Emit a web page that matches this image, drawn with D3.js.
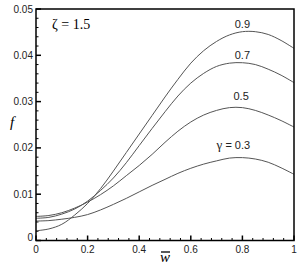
<!DOCTYPE html>
<html>
<head>
<meta charset="utf-8">
<script src="https://cdn.jsdelivr.net/npm/d3@7"></script>
<style>
  body { margin: 0; background: #fff; }
  svg { display: block; }
  .tick-label { font-family: "Liberation Sans", Arial, sans-serif; font-size: 10px; fill: #222; }
  .curve-label { font-family: "Liberation Sans", Arial, sans-serif; font-size: 11px; fill: #222; }
  .serif { font-family: "Liberation Serif", "Times New Roman", serif; }
</style>
</head>
<body>
<svg id="chart" width="305" height="268"></svg>
<script>
// x positions (w-bar) where the curves were read
const wValues = [0, 0.05, 0.1, 0.15, 0.2, 0.25, 0.3, 0.35, 0.4, 0.45, 0.5,
                 0.55, 0.6, 0.65, 0.7, 0.75, 0.8, 0.85, 0.9, 0.95, 1.0];

// f for each gamma
const fGamma09 = [0.0021, 0.0025, 0.0035, 0.0055, 0.0080, 0.0112, 0.0150, 0.0190, 0.0230, 0.0270, 0.0310,
                  0.0348, 0.0383, 0.0410, 0.0430, 0.0444, 0.0451, 0.0451, 0.0445, 0.0432, 0.0415];
const fGamma07 = [0.0048, 0.0050, 0.0057, 0.0068, 0.0085, 0.0108, 0.0135, 0.0168, 0.0205, 0.0242, 0.0278,
                  0.0312, 0.0340, 0.0361, 0.0376, 0.0383, 0.0384, 0.0380, 0.0370, 0.0357, 0.0341];
const fGamma05 = [0.0052, 0.0054, 0.0060, 0.0070, 0.0083, 0.0099, 0.0118, 0.0140, 0.0162, 0.0186, 0.0212,
                  0.0236, 0.0256, 0.0271, 0.0281, 0.0287, 0.0287, 0.0281, 0.0271, 0.0259, 0.0245];
const fGamma03 = [0.0042, 0.0043, 0.0046, 0.0050, 0.0056, 0.0066, 0.0078, 0.0091, 0.0105, 0.0119, 0.0132,
                  0.0145, 0.0156, 0.0165, 0.0172, 0.0178, 0.0179, 0.0176, 0.0169, 0.0157, 0.0143];

const xTicks = [0, 0.2, 0.4, 0.6, 0.8, 1];
const xTickLabels = ['0', '0.2', '0.4', '0.6', '0.8', '1'];
const yTicks = [0, 0.01, 0.02, 0.03, 0.04, 0.05];
const yTickLabels = ['0', '0.01', '0.02', '0.03', '0.04', '0.05'];

// curve labels: text and where it sits (data coords)
const labelTexts = ['0.9', '0.7', '0.5', '\u03b3 = 0.3'];
const labelW = [0.8, 0.8, 0.795, 0.765];
const labelF = [0.0460, 0.0393, 0.0303, 0.0198];

const svg = d3.select('#chart');
const plot = { left: 36, right: 294, top: 9, bottom: 240.5 };

const x = d3.scaleLinear().domain([0, 1]).range([plot.left, plot.right]);
const y = d3.scaleLinear().domain([0, 0.05]).range([plot.bottom, plot.top]);

// minor ticks
const xMinor = d3.range(0, 1.0001, 0.04).filter(v => !xTicks.some(t => Math.abs(t - v) < 1e-6));
const yMinor = d3.range(0, 0.05001, 0.002).filter(v => !yTicks.some(t => Math.abs(t - v) < 1e-7));

const g = svg.append('g');

g.selectAll('.xminor').data(xMinor).enter().append('line')
    .attr('x1', d => x(d)).attr('x2', d => x(d))
    .attr('y1', plot.bottom).attr('y2', plot.bottom - 2.5)
    .attr('stroke', '#000').attr('stroke-width', 1);
g.selectAll('.xmajor').data(xTicks).enter().append('line')
    .attr('x1', d => x(d)).attr('x2', d => x(d))
    .attr('y1', plot.bottom).attr('y2', plot.bottom - 5)
    .attr('stroke', '#000').attr('stroke-width', 1.5);
g.selectAll('.yminor').data(yMinor).enter().append('line')
    .attr('y1', d => y(d)).attr('y2', d => y(d))
    .attr('x1', plot.left).attr('x2', plot.left + 2.5)
    .attr('stroke', '#000').attr('stroke-width', 1);
g.selectAll('.ymajor').data(yTicks).enter().append('line')
    .attr('y1', d => y(d)).attr('y2', d => y(d))
    .attr('x1', plot.left).attr('x2', plot.left + 5)
    .attr('stroke', '#000').attr('stroke-width', 1.5);

// tick labels
g.selectAll('.xlab').data(xTicks).enter().append('text')
    .attr('class', 'tick-label')
    .attr('x', d => x(d)).attr('y', plot.bottom + 12)
    .attr('text-anchor', 'middle')
    .text((d, i) => xTickLabels[i]);
g.selectAll('.ylab').data(yTicks).enter().append('text')
    .attr('class', 'tick-label')
    .attr('x', plot.left - 3).attr('y', d => y(d) + (d === 0 ? 0 : 3.5))
    .attr('text-anchor', 'end')
    .text((d, i) => yTickLabels[i]);

// curves
const series = [fGamma09, fGamma07, fGamma05, fGamma03];
const line = d3.line()
    .x((d, i) => x(wValues[i]))
    .y(d => y(d))
    .curve(d3.curveCatmullRom.alpha(0.5));

g.selectAll('.curve').data(series).enter().append('path')
    .attr('d', d => line(d))
    .attr('fill', 'none')
    .attr('stroke', '#555')
    .attr('stroke-width', 1);

// frame
g.append('rect')
    .attr('x', plot.left).attr('y', plot.top)
    .attr('width', plot.right - plot.left).attr('height', plot.bottom - plot.top)
    .attr('fill', 'none').attr('stroke', '#000').attr('stroke-width', 1.5);

// curve labels
labelTexts.forEach((t, i) => {
    const txt = g.append('text')
        .attr('class', 'curve-label')
        .attr('x', x(labelW[i])).attr('y', y(labelF[i]))
        .attr('text-anchor', 'middle');
    if (t.startsWith('\u03b3')) {
        txt.append('tspan').attr('class', 'serif').style('font-size', '13px').text('\u03b3');
        txt.append('tspan').text(' = 0.3');
    } else {
        txt.text(t);
    }
});

// zeta annotation
svg.append('text')
    .attr('class', 'serif')
    .attr('x', 52).attr('y', 29)
    .style('font-size', '14px')
    .text('\u03b6 = 1.5');

// axis titles
svg.append('text')
    .attr('class', 'serif')
    .attr('x', 10).attr('y', 127)
    .style('font-size', '15px').style('font-style', 'italic')
    .text('f');

svg.append('text')
    .attr('class', 'serif')
    .attr('x', 165).attr('y', 262)
    .attr('text-anchor', 'middle')
    .style('font-size', '15px').style('font-style', 'italic')
    .text('w');
svg.append('line')
    .attr('x1', 161).attr('x2', 170)
    .attr('y1', 252).attr('y2', 252)
    .attr('stroke', '#000').attr('stroke-width', 1.3);
</script>
</body>
</html>
